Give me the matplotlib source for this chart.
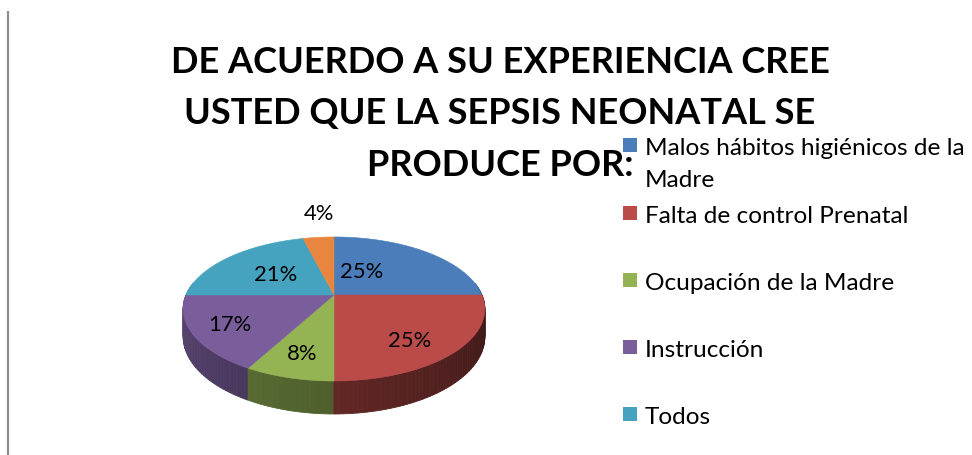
import numpy as np
import matplotlib
matplotlib.use("Agg")
import matplotlib.pyplot as plt
from matplotlib.patches import Polygon, Rectangle
from matplotlib.colors import to_rgb

# ---------------- data ----------------
TITLE_LINES = ["DE ACUERDO A SU EXPERIENCIA CREE",
               "USTED QUE LA SEPSIS NEONATAL SE",
               "PRODUCE POR:"]
CATEGORIES = ["Malos hábitos higiénicos de la\nMadre",
              "Falta de control Prenatal",
              "Ocupación de la Madre",
              "Instrucción",
              "Todos",
              "Otros"]
VALUES = [25, 25, 8, 17, 21, 4]
LABELS = ["25%", "25%", "8%", "17%", "21%", "4%"]
LEGEND_SHOWN = 5  # the reference legend is cut after five entries

COLORS = ["#4A7DBA", "#BA4B48", "#94B454", "#7A5E9C", "#46A3BF", "#E8863F"]

# ---------------- figure ----------------
W, H = 972, 456
fig = plt.figure(figsize=(W / 100, H / 100), dpi=100)
ax = fig.add_axes([0, 0, 1, 1])
ax.set_xlim(0, W)
ax.set_ylim(H, 0)
ax.axis("off")
renderer = fig.canvas.get_renderer()


def fit_size(text, width, **kw):
    t = ax.text(0, 0, text, fontsize=20, **kw)
    w = t.get_window_extent(renderer).width
    t.remove()
    return 20 * width / w


FONT = "Lato"

# left border line
ax.plot([8, 8], [12, H], color="#8c8c8c", lw=1.6, solid_capstyle="butt")

# ---------------- title ----------------
tsize = fit_size(TITLE_LINES[0], 660, family=FONT, fontweight="bold")
for line, yb in zip(TITLE_LINES, [73, 124, 176]):
    ax.text(500, yb, line, ha="center", va="baseline", fontsize=tsize,
            family=FONT, fontweight="bold", color="black", zorder=5)

# ---------------- 3D pie (perspective) ----------------
CX, CY = 334, 296
RX, RY = 148, 69.3
P = 0.194
DEPTH = 26.6


def proj(theta_deg, r, z=0.0):
    th = np.radians(theta_deg)
    u = r * np.sin(th)
    v = r * np.cos(th)
    s = 1 + P * v
    return CX + RX * u / s, CY - RY * v / s + z / s


vals = np.array(VALUES, dtype=float)
bounds = np.concatenate([[0], np.cumsum(vals) / vals.sum() * 360])

# walls
segs = []
for i in range(len(vals)):
    a0, a1 = bounds[i], bounds[i + 1]
    lo, hi = max(a0, 80), min(a1, 280)
    if hi <= lo:
        continue
    n = max(2, int((hi - lo) / 1.5) + 1)
    ts = np.linspace(lo, hi, n)
    for t0, t1 in zip(ts[:-1], ts[1:]):
        segs.append((np.cos(np.radians((t0 + t1) / 2)), i, t0, t1))
segs.sort(key=lambda s: -s[0])
for _, i, t0, t1 in segs:
    tm = (t0 + t1) / 2
    f = np.clip(0.3 + 0.45 * (tm - 90) / 180, 0.3, 0.78)
    c = np.array(to_rgb(COLORS[i])) * f
    pts = [proj(t0, 1, 0), proj(t1, 1, 0), proj(t1, 1, DEPTH), proj(t0, 1, DEPTH)]
    ax.add_patch(Polygon(pts, closed=True, facecolor=c, edgecolor=c, lw=0.6, zorder=2))

# top faces
for i in range(len(vals)):
    a0, a1 = bounds[i], bounds[i + 1]
    ts = np.linspace(a0, a1, max(3, int(a1 - a0) + 2))
    pts = [proj(0, 0)] + [proj(t, 1) for t in ts]
    ax.add_patch(Polygon(pts, closed=True, facecolor=COLORS[i], edgecolor=COLORS[i],
                         lw=0.4, zorder=3))

# data labels
LAB_DTH = [-16.4, 6.6, 0, 0, 0, 2.3]
LAB_R = [0.42, 0.735, 0.74, 0.76, 0.53, 1.54]
lsize = fit_size("25%", 43, family=FONT)
for i in range(len(vals)):
    mid = (bounds[i] + bounds[i + 1]) / 2 + LAB_DTH[i]
    x, y = proj(mid, LAB_R[i])
    ax.text(x, y, LABELS[i], ha="center", va="center", fontsize=lsize,
            family=FONT, color="black", zorder=6)

# ---------------- legend ----------------
gsize = fit_size("Malos hábitos higiénicos de la", 320, family=FONT)
centers = [146, 214, 281, 348, 415]
for i in range(LEGEND_SHOWN):
    yc = centers[i]
    ax.add_patch(Rectangle((623, yc - 7), 14, 14, facecolor=COLORS[i],
                           edgecolor="none", zorder=6))
    for k, part in enumerate(CATEGORIES[i].split("\n")):
        ax.text(645, yc + 9 + 32 * k, part, ha="left", va="baseline",
                fontsize=gsize, family=FONT, color="black", zorder=6)

fig.savefig("out.png", dpi=100)
